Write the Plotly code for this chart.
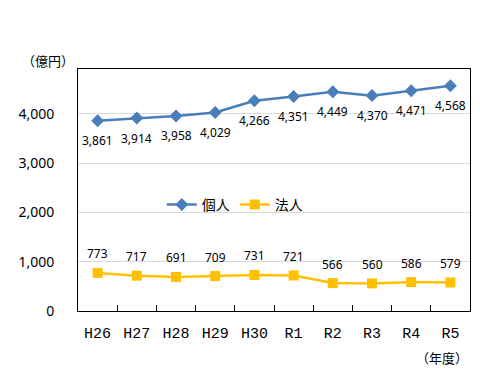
import plotly.graph_objects as go

years = ["H26", "H27", "H28", "H29", "H30", "R1", "R2", "R3", "R4", "R5"]
kojin = [3861, 3914, 3958, 4029, 4266, 4351, 4449, 4370, 4471, 4568]
hojin = [773, 717, 691, 709, 731, 721, 566, 560, 586, 579]
y_ticks = [0, 1000, 2000, 3000, 4000]

BLUE = "#4A7EBB"
YELLOW = "#FFC000"

fig = go.Figure()
fig.add_trace(go.Scatter(
    x=years, y=kojin, name="個人", mode="lines+markers",
    line=dict(color=BLUE, width=2.5),
    marker=dict(symbol="diamond", size=10, color=BLUE),
))
fig.add_trace(go.Scatter(
    x=years, y=hojin, name="法人", mode="lines+markers",
    line=dict(color=YELLOW, width=2.5),
    marker=dict(symbol="square", size=10, color=YELLOW),
))

lab_font = dict(family="Noto Sans, DejaVu Sans", size=12, color="#000000")
for xv, yv in zip(years, kojin):
    fig.add_annotation(x=xv, y=yv, text=f"{yv:,}", showarrow=False,
                       yshift=-20, font=lab_font)
for xv, yv in zip(years, hojin):
    fig.add_annotation(x=xv, y=yv, text=f"{yv:,}", showarrow=False,
                       yshift=19, font=lab_font)

fig.add_annotation(xref="paper", yref="paper", x=-0.077, y=1.037,
                   xanchor="center", yanchor="middle", text="（億円）",
                   showarrow=False,
                   font=dict(family="Noto Sans CJK JP", size=13, color="#000000"))
fig.add_annotation(xref="paper", yref="paper", x=1.0, y=-0.194,
                   xanchor="right", yanchor="middle", text="（年度）",
                   showarrow=False,
                   font=dict(family="Noto Sans CJK JP", size=13, color="#000000"))

fig.update_layout(
    width=480, height=369, autosize=False,
    margin=dict(l=78, r=10, t=69, b=58),
    paper_bgcolor="white", plot_bgcolor="white",
    showlegend=True,
    legend=dict(orientation="h", x=0.40, y=0.438, xanchor="center",
                yanchor="middle", bgcolor="rgba(0,0,0,0)",
                font=dict(family="Noto Sans CJK JP", size=14, color="#000000"),
                itemwidth=30, tracegroupgap=0),
)
fig.update_xaxes(
    type="category", range=[-0.5, 9.5],
    showline=True, linecolor="#000000", linewidth=1, mirror=True,
    ticks="inside", tickson="boundaries", ticklen=6, tickcolor="#000000",
    showgrid=False,
    tickfont=dict(family="Liberation Mono", size=15, color="#000000"),
    ticklabelstandoff=8,
)
fig.update_yaxes(
    range=[0, 4910], tickvals=y_ticks, tickformat=",",
    showline=True, linecolor="#000000", linewidth=1, mirror=True,
    showgrid=True, gridcolor="#D9D9D9", gridwidth=1, zeroline=False,
    ticks="", tickfont=dict(family="Noto Sans, DejaVu Sans", size=14, color="#000000"),
    ticklabelstandoff=20,
)

fig.write_html("out.html", config={"displayModeBar": False},
               post_script="document.body.style.margin='0';document.body.style.padding='0';")
